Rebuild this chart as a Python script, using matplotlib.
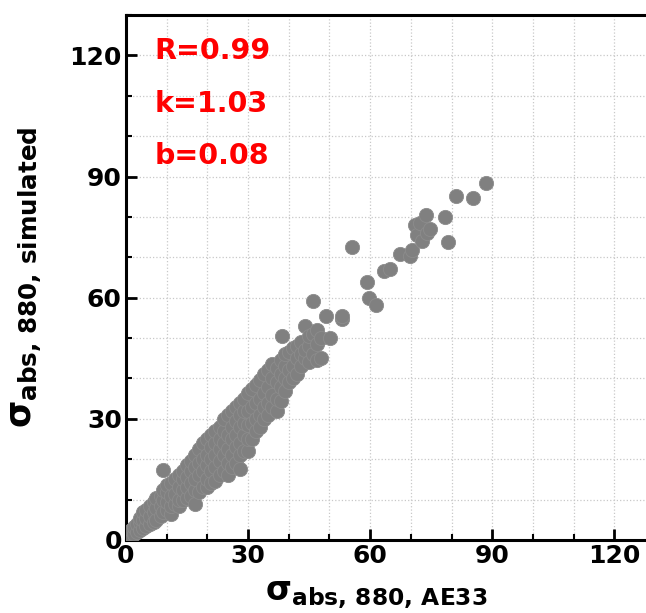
import matplotlib.pyplot as plt

ae33 = [0.5, 0.5, 1.2, 1.2, 2, 2, 2.8, 2.8, 3.5, 3.5, 3.5, 4.3, 4.3, 4.3,
        5, 5, 5, 6, 6, 6, 6.8, 6.8, 6.8, 7.5, 7.5, 7.5, 8.5, 8.5, 8.5,
        9.2, 9.2, 9.2, 9.2, 10, 10, 10, 10, 11, 11, 11, 11, 12, 12, 12,
        13, 13, 13, 13, 14, 14, 14, 14, 15, 15, 15, 15, 16, 16, 16, 16,
        17, 17, 17, 17, 17, 18, 18, 18, 18, 19, 19, 19, 19,
        20, 20, 20, 20, 20, 21, 21, 21, 21, 21, 22, 22, 22, 22, 22,
        23, 23, 23, 23, 23, 24, 24, 24, 24, 24, 25, 25, 25, 25, 25,
        26, 26, 26, 26, 26, 27, 27, 27, 27, 27, 28, 28, 28, 28, 28, 28,
        29, 29, 29, 29, 29, 30, 30, 30, 30, 30, 31, 31, 31, 31,
        32, 32, 32, 32, 33, 33, 33, 33, 34, 34, 34, 34, 35, 35, 35, 35,
        36, 36, 36, 36, 37, 37, 37, 37, 38, 38, 38, 38, 38.3,
        39, 39, 39, 39, 40, 40, 40, 41, 41, 41, 42, 42, 42, 43, 43, 43,
        44, 44, 44, 45, 45, 45, 46, 46, 45.9, 47, 47, 47, 48, 48,
        49.2, 50.2, 53, 53, 55.5, 59.2, 59.8, 61.5, 63.3, 64.9,
        67.4, 69.8, 70.2, 71.1, 71.5, 72.3, 72.7, 73.8, 73.9, 74.7,
        78.4, 79.1, 81.0, 85.2, 88.5]
simulated = [0.5, 1.5, 0.8, 2.5, 1.5, 3.2, 2, 4, 2.5, 4.5, 5.5, 3, 5, 7,
             3.5, 5.5, 7.5, 4, 6, 8.5, 4.5, 7, 9.5, 5, 8, 10.5, 6, 8.5, 11,
             17.4, 7, 10, 12.5, 7.5, 9.5, 12, 13.5, 6.5, 8.5, 11, 14, 9, 11.5, 15,
             8.5, 10, 13, 16, 10, 12.5, 15, 17, 10.5, 13, 15.5, 18.5, 11, 14, 17, 19.5,
             9, 12.5, 15, 18, 21, 12, 16, 19, 22.5, 13, 17, 20, 24,
             13, 15, 18.5, 21, 25, 14, 17, 20, 23, 26, 14.5, 18, 21, 24, 27,
             16, 19.5, 22.5, 25, 28, 17, 21, 24, 27, 30, 16, 19, 22.5, 26, 31,
             18, 21, 25, 28, 32, 19, 23, 26, 29.5, 33, 17.5, 21, 24, 28, 31, 34,
             22, 26, 29, 32, 35, 22, 25, 28.5, 32, 36.5, 25, 29, 33, 37.5,
             27, 30, 34, 38.5, 28, 31, 35, 39.5, 30, 33, 36.5, 41, 31, 34, 38, 42,
             33, 36, 40, 43.5, 32, 35, 39, 42.5, 34.5, 38, 41, 44.5, 50.5,
             37, 40, 43, 46, 39, 42, 46.5, 40, 43, 47.5, 41, 45, 48, 43, 46, 49,
             45, 47, 53, 44, 48, 50.5, 46, 51, 59.2, 44.6, 48.5, 52, 45, 50,
             55.5, 50.1, 54.8, 55.5, 72.5, 64.0, 60.0, 58.2, 66.7, 67.2,
             70.7, 70.3, 71.9, 78.1, 75.6, 78.4, 74.0, 80.4, 76.0, 76.9,
             79.9, 73.8, 85.2, 84.6, 88.3]

stats = ['R=0.99', 'k=1.03', 'b=0.08']
ticks = [0, 30, 60, 90, 120]

fig = plt.figure(figsize=(6.46, 6.13), dpi=100)
ax = fig.add_axes([0.195, 0.1191, 0.8189, 0.8564])

ax.scatter(ae33, simulated, s=105, color='#808080', edgecolors='#8c8c8c',
           linewidths=0.6, zorder=3)

ax.set_xlim(0, 130)
ax.set_ylim(0, 130)
ax.set_xticks(ticks)
ax.set_yticks(ticks)
ax.set_xticks(range(0, 131, 10), minor=True)
ax.set_yticks(range(0, 131, 10), minor=True)
ax.grid(True, which='both', linestyle=':', color='#c8c8c8', linewidth=0.9)

ax.tick_params(which='major', direction='in', length=8, width=2,
               labelsize=18, pad=3)
ax.tick_params(which='minor', direction='in', length=4, width=1.5)
for lab in ax.get_xticklabels() + ax.get_yticklabels():
    lab.set_fontweight('bold')
for sp in ax.spines.values():
    sp.set_linewidth(2.2)

for i, txt in enumerate(stats):
    ax.text(7.1, 119 - 12.9 * i, txt, color='red', fontsize=20.5,
            fontweight='bold', va='baseline')

ax.set_xlabel(r'$\mathbf{\sigma_{abs,\,880,\,AE33}}$', fontsize=24)
ax.set_ylabel(r'$\mathbf{\sigma_{abs,\,880,\,simulated}}$', fontsize=25.3)
ax.xaxis.set_label_coords(0.473, -0.072)
ax.yaxis.set_label_coords(-0.155, 0.5)

fig.savefig('out.png', dpi=100)
